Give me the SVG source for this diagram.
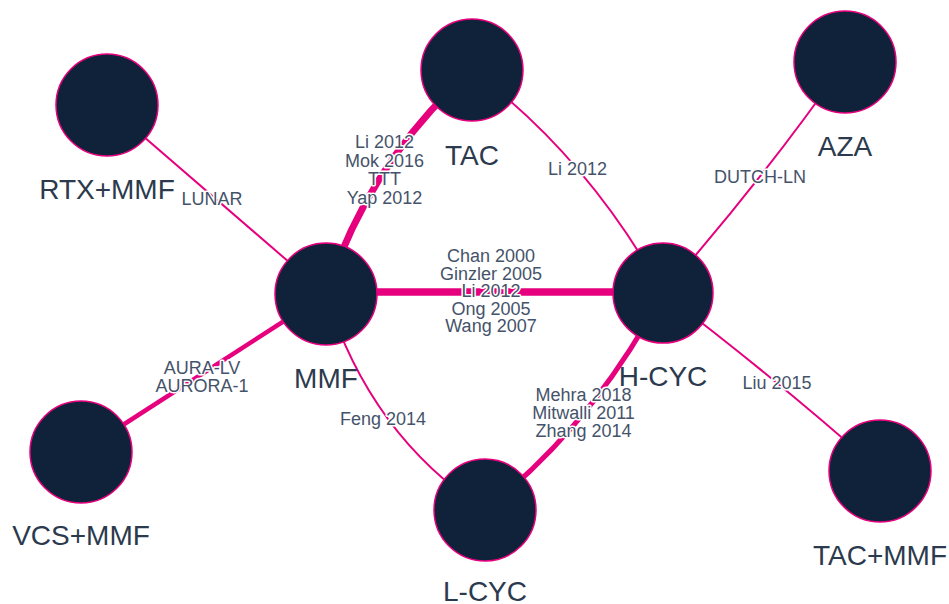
<svg xmlns="http://www.w3.org/2000/svg" width="949" height="604" viewBox="0 0 949 604">
<style>
.e{fill:none;stroke:#e6007e;stroke-linecap:butt}
.n{fill:#0f2239;stroke:#e6007e;stroke-width:1.5}
.nl{font-family:"Liberation Sans",Arial,sans-serif;font-size:28px;fill:#2c3a4e;text-anchor:middle}
.el{font-family:"Liberation Sans",Arial,sans-serif;font-size:18px;fill:#45536a;text-anchor:middle;stroke:#fff;stroke-width:3px;paint-order:stroke;stroke-linejoin:round}
</style>
<rect width="949" height="604" fill="#fff"/>
<g id="connectors">
<path class="e" style="stroke-width:7" d="M326,294 Q370,160 472,70"/>
<path class="e" style="stroke-width:7.5" d="M326,292 L663,292"/>
<path class="e" style="stroke-width:2" d="M107,105 L326,294"/>
<path class="e" style="stroke-width:4.5" d="M326,294 L81,452"/>
<path class="e" style="stroke-width:2" d="M326,294 Q370.5,436 485,510"/>
<path class="e" style="stroke-width:5" d="M663,293 Q594,424.5 485,510"/>
<path class="e" style="stroke-width:2" d="M663,293 Q587.5,156.5 472,70"/>
<path class="e" style="stroke-width:2" d="M663,293 Q766,175.5 845,62"/>
<path class="e" style="stroke-width:2" d="M663,293 Q782.5,384 880,471"/>
</g>
<g id="edge-labels">
<text class="el" x="384.5" y="148">Li 2012</text>
<text class="el" x="384.5" y="166.5">Mok 2016</text>
<text class="el" x="384.5" y="185">TTT</text>
<text class="el" x="384.5" y="203.5">Yap 2012</text>
<text class="el" x="491" y="262">Chan 2000</text>
<text class="el" x="491" y="279.5">Ginzler 2005</text>
<text class="el" x="491" y="297">Li 2012</text>
<text class="el" x="491" y="314.5">Ong 2005</text>
<text class="el" x="491" y="332">Wang 2007</text>
<text class="el" x="212" y="205">LUNAR</text>
<text class="el" x="202" y="373.5">AURA-LV</text>
<text class="el" x="202" y="391.5">AURORA-1</text>
<text class="el" x="383" y="425">Feng 2014</text>
<text class="el" x="583.5" y="401">Mehra 2018</text>
<text class="el" x="583.5" y="419">Mitwalli 2011</text>
<text class="el" x="583.5" y="437">Zhang 2014</text>
<text class="el" x="577.5" y="175">Li 2012</text>
<text class="el" x="760" y="183">DUTCH-LN</text>
<text class="el" x="777" y="389">Liu 2015</text>
</g>
<g id="node-TAC"><circle class="n" cx="472" cy="70" r="51"/><text class="nl" x="472" y="165">TAC</text></g>
<g id="node-RTX-MMF"><circle class="n" cx="107" cy="105" r="51"/><text class="nl" x="107" y="199">RTX+MMF</text></g>
<g id="node-AZA"><circle class="n" cx="845" cy="62" r="51"/><text class="nl" x="845" y="156">AZA</text></g>
<g id="node-MMF"><circle class="n" cx="326" cy="294" r="51"/><text class="nl" x="326" y="388">MMF</text></g>
<g id="node-H-CYC"><circle class="n" cx="663" cy="293" r="50"/><text class="nl" x="663" y="386">H-CYC</text></g>
<g id="node-VCS-MMF"><circle class="n" cx="81" cy="452" r="51"/><text class="nl" x="81" y="545">VCS+MMF</text></g>
<g id="node-L-CYC"><circle class="n" cx="485" cy="510" r="51"/><text class="nl" x="485" y="601">L-CYC</text></g>
<g id="node-TAC-MMF"><circle class="n" cx="880" cy="471" r="51"/><text class="nl" x="880" y="565">TAC+MMF</text></g>
</svg>
